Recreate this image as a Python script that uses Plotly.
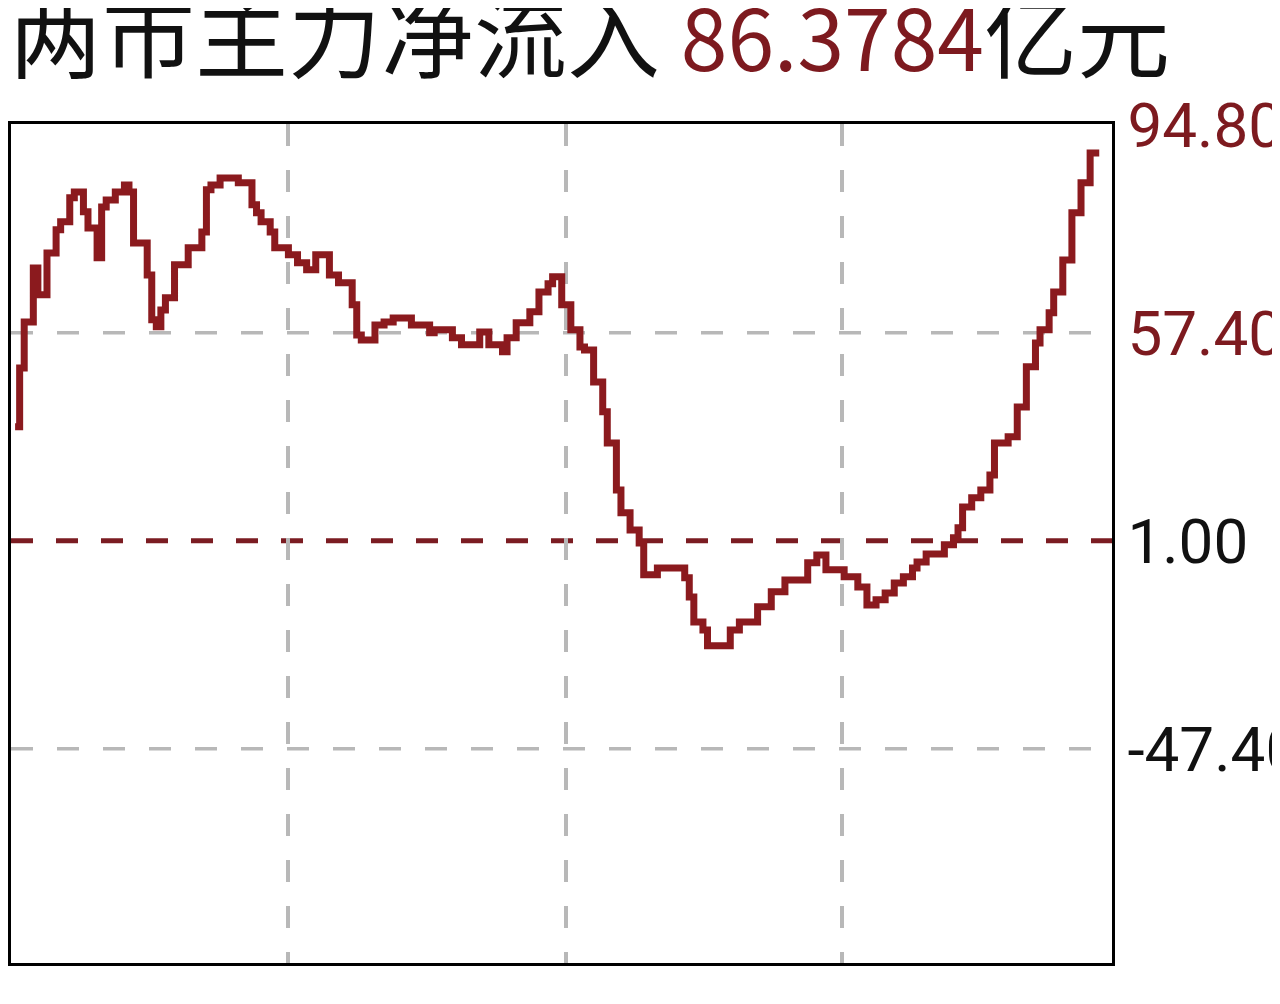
import plotly.graph_objects as go

# minutes from open (9:30), step series (亿元)
minutes = [0, 1, 2, 4, 5, 7, 9, 10, 12, 13, 15, 16, 18, 19, 20, 22, 24, 25, 26, 29,
           30, 31, 32, 33, 35, 38, 41, 42, 43, 45, 49, 52, 53, 54, 56, 57, 60, 62, 64, 66,
           69, 71, 74, 75, 76, 79, 81, 83, 87, 91, 92, 96, 98, 102, 104, 107, 108, 110, 113, 115,
           117, 118, 120, 122, 124, 125, 127, 129, 130, 132, 133, 135, 137, 138, 141, 147, 148, 149, 151, 152,
           157, 159, 163, 166, 169, 174, 176, 178, 182, 185, 187, 189, 191, 193, 195, 197, 198, 200, 204, 206,
           207, 208, 210, 212, 214, 215, 218, 220, 222, 224, 225, 227, 228, 230, 232, 234, 236, 238]
inflow = [26.0, 39.4, 49.9, 62.2, 56.1, 65.6, 70.9, 72.7, 78.2, 79.5, 75.0, 71.3, 64.5, 76.1, 77.7, 79.5, 81.1, 79.5, 67.9, 60.6,
          50.4, 48.8, 52.6, 55.4, 62.9, 66.8, 70.4, 80.0, 81.1, 82.7, 81.6, 76.6, 74.8, 72.7, 70.4, 66.8, 65.2, 63.4, 61.8, 65.2,
          60.6, 58.8, 53.8, 46.9, 45.8, 49.2, 49.9, 50.8, 49.2, 47.4, 48.1, 46.3, 44.7, 47.6, 44.7, 43.1, 46.3, 49.7, 52.2, 56.7,
          58.6, 60.2, 53.8, 48.1, 44.2, 43.5, 36.2, 29.4, 22.3, 11.6, 6.4, 2.5, -0.5, -7.7, -6.2, -8.4, -12.8, -18.5, -20.3, -23.9,
          -20.3, -18.5, -15.0, -11.6, -8.9, -5.0, -3.2, -6.6, -8.2, -10.5, -14.6, -13.4, -11.9, -9.6, -8.2, -6.2, -4.8, -3.0, -0.9, 0.7,
          3.0, 7.7, 9.8, 11.6, 15.0, 22.3, 23.7, 30.5, 39.7, 45.1, 48.1, 52.0, 56.7, 64.0, 74.8, 81.6, 88.4, 88.4]

tick_vals = [94.8, 47.4, 0, -47.4]
tick_text = ["94.80", "57.40", "1.00", "-47.40"]
tick_colors = ["#7d1a1f", "#7d1a1f", "#111111", "#111111"]
x_grid = [60, 121, 181.5]

title_label = "两市主力净流入"
title_value = "86.3784"
title_unit = "亿元"

RED = "#8b1a1e"

fig = go.Figure()
fig.add_trace(go.Scatter(
    x=minutes, y=inflow, mode="lines", line=dict(color=RED, width=7, shape="hv"),
    hoverinfo="skip", showlegend=False,
))

shapes = []
for v in tick_vals:
    if v == 0:
        shapes.append(dict(type="line", xref="paper", x0=0, x1=1, yref="y", y0=v, y1=v,
                           line=dict(color="#7b1c22", width=5, dash="22px,23px"), layer="below"))
    elif v in (47.4, -47.4):
        shapes.append(dict(type="line", xref="paper", x0=0, x1=1, yref="y", y0=v, y1=v,
                           line=dict(color="#b8b8b8", width=3.5, dash="22px,24px"), layer="below"))

fig.update_layout(
    width=1280, height=1004,
    margin=dict(l=3, r=176, t=116, b=49),
    paper_bgcolor="white", plot_bgcolor="white",
    shapes=shapes,
    xaxis=dict(range=[-0.9, 240.8], tickvals=x_grid, showticklabels=False, ticks="",
               showgrid=True, gridcolor="#b8b8b8", gridwidth=3.5, griddash="22px,24px",
               zeroline=False, showline=True, linecolor="black", linewidth=3, mirror=True,
               automargin=False),
    yaxis=dict(range=[-96.2, 95.0], side="right", tickvals=tick_vals,
               ticktext=[f'<span style="color:{c}">{t}</span>' for t, c in zip(tick_text, tick_colors)],
               tickfont=dict(family="Roboto", size=62), ticks="", ticklabelstandoff=0,
               showgrid=False, zeroline=False, showline=True, linecolor="black", linewidth=3, mirror=True,
               automargin=False),
    annotations=[dict(
        xref="paper", yref="paper", x=-0.004, y=1.194, xanchor="left", yanchor="top",
        text=(f'{title_label} <span style="color:#7d1a1f;font-size:84px">{title_value}</span>'
              f'<span style="font-size:93px">{title_unit}</span>'),
        font=dict(family="Noto Sans CJK SC", size=93, color="#111111"), showarrow=False,
    )],
)

fig.write_html("out.html")
